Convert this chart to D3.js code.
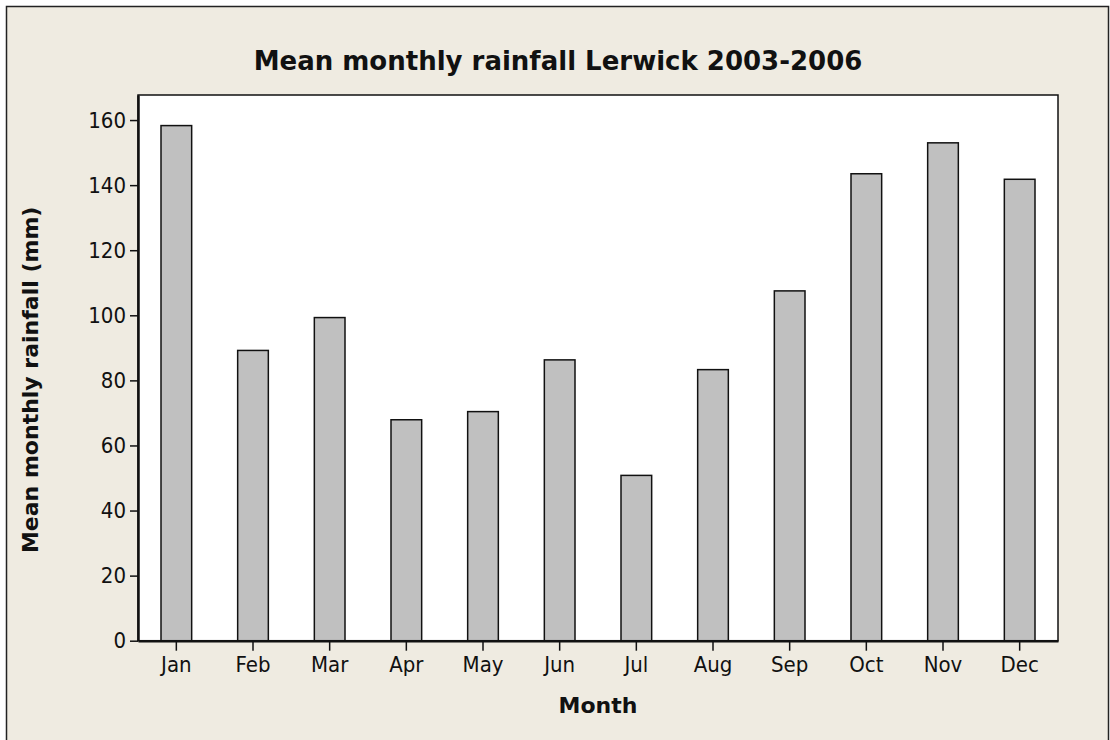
<!DOCTYPE html>
<html>
<head>
<meta charset="utf-8">
<script src="https://cdn.jsdelivr.net/npm/d3@7"></script>
<style>
  body { margin: 0; background: #fff; }
  text { font-family: "DejaVu Sans Condensed", "DejaVu Sans", sans-serif; font-stretch: condensed; fill: #111; }
  .label { font-family: "DejaVu Sans", sans-serif; font-stretch: normal; font-weight: bold; }
</style>
</head>
<body>
<div id="chart-container"></div>
<script>
// Mean monthly rainfall, Lerwick 2003-2006
const months = ["Jan", "Feb", "Mar", "Apr", "May", "Jun", "Jul", "Aug", "Sep", "Oct", "Nov", "Dec"];
const rainfall = [158.3, 89.2, 99.3, 67.9, 70.4, 86.3, 50.8, 83.3, 107.5, 143.5, 153.0, 141.8];
const yTicks = [0, 20, 40, 60, 80, 100, 120, 140, 160];

const width = 1110;
const height = 740;
const margin = { top: 95, right: 52, bottom: 99.3, left: 138 };

const svg = d3.select("#chart-container")
    .append("svg")
    .attr("width", width)
    .attr("height", height);

// outer frame
svg.append("rect")
    .attr("x", 6.5)
    .attr("y", 6.5)
    .attr("width", 1102)
    .attr("height", 760)
    .attr("fill", "#efebe1")
    .attr("stroke", "#222")
    .attr("stroke-width", 1.5);

const data = months.map((m, i) => ({ month: m, value: rainfall[i] }));

const xScale = d3.scaleBand()
    .domain(months)
    .range([margin.left, width - margin.right])
    .paddingInner(0.6)
    .paddingOuter(0.3);

const yScale = d3.scaleLinear()
    .domain([0, 167.7])
    .range([height - margin.bottom, margin.top]);

// plot area
svg.append("rect")
    .attr("x", margin.left)
    .attr("y", margin.top)
    .attr("width", width - margin.left - margin.right)
    .attr("height", height - margin.top - margin.bottom)
    .attr("fill", "#fff")
    .attr("stroke", "#111")
    .attr("stroke-width", 1.5);

// bars
svg.selectAll(".bar")
    .data(data)
    .enter()
    .append("rect")
    .attr("class", "bar")
    .attr("x", d => xScale(d.month))
    .attr("width", xScale.bandwidth())
    .attr("y", d => yScale(d.value))
    .attr("height", d => yScale(0) - yScale(d.value))
    .attr("fill", "#c0c0c0")
    .attr("stroke", "#111")
    .attr("stroke-width", 1.5);

// y axis
const yAxis = svg.append("g")
    .attr("transform", `translate(${margin.left},0)`)
    .call(d3.axisLeft(yScale).tickValues(yTicks).tickSize(8).tickPadding(4).tickSizeOuter(0));
yAxis.select(".domain").attr("stroke", "#111").attr("stroke-width", 2.5);
yAxis.selectAll(".tick line").attr("stroke", "#111").attr("stroke-width", 1.5);
yAxis.selectAll(".tick text").attr("font-size", 22).attr("fill", "#111").attr("font-family", null);

// x axis
const xAxis = svg.append("g")
    .attr("transform", `translate(0,${yScale(0)})`)
    .call(d3.axisBottom(xScale).tickSize(10).tickPadding(6).tickSizeOuter(0));
xAxis.select(".domain").attr("stroke", "#111").attr("stroke-width", 2.5);
xAxis.selectAll(".tick text").attr("font-size", 22).attr("fill", "#111").attr("font-family", null);
xAxis.selectAll(".tick line").attr("stroke", "#111").attr("stroke-width", 1.5);

// title and axis labels
svg.append("text")
    .attr("class", "label")
    .attr("x", 558)
    .attr("y", 70)
    .attr("text-anchor", "middle")
    .attr("font-size", 26)
    .text("Mean monthly rainfall Lerwick 2003-2006");

svg.append("text")
    .attr("class", "label")
    .attr("x", 598)
    .attr("y", 713)
    .attr("text-anchor", "middle")
    .attr("font-size", 22)
    .text("Month");

svg.append("text")
    .attr("class", "label")
    .attr("transform", `translate(38,${(margin.top + height - margin.bottom) / 2 + 12}) rotate(-90)`)
    .attr("text-anchor", "middle")
    .attr("font-size", 22)
    .text("Mean monthly rainfall (mm)");
</script>
</body>
</html>
